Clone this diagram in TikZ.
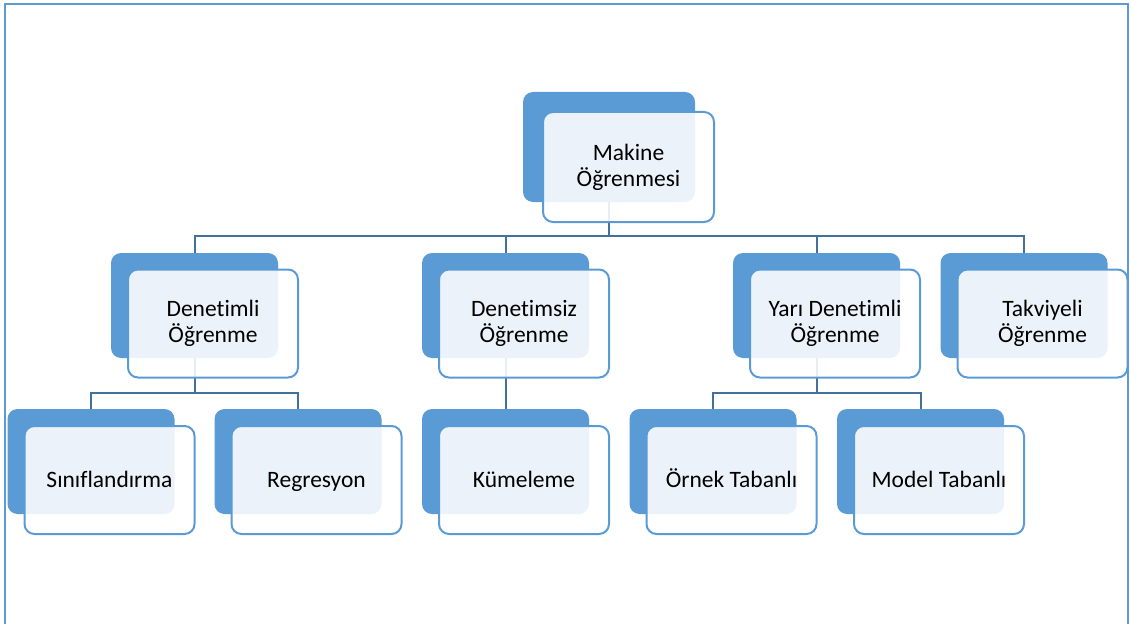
\documentclass[tikz,border=0pt]{standalone}
\usepackage{fontspec}
\setmainfont[Ligatures=NoCommon]{Carlito}
\definecolor{accent}{HTML}{5B9BD5}
\definecolor{linkc}{HTML}{41719C}
\begin{document}
\begin{tikzpicture}[x=1pt,y=-1pt,
  backbox/.style={fill=accent, rounded corners=10pt, minimum width=167pt,
    minimum height=105pt, inner sep=0pt, outer sep=0pt},
  frontbox/.style={draw=accent, line width=2pt, fill=white, fill opacity=0.88,
    text opacity=1, rounded corners=10pt, minimum width=170pt, minimum height=108pt,
    align=center, inner sep=0pt, outer sep=0pt, font=\fontsize{23.5}{26}\selectfont},
  oneline/.style={frontbox, text height=17pt, text depth=3pt},
  link/.style={draw=linkc, line width=2pt}]
\useasboundingbox (0,0) rectangle (1131,623);
% frame
\draw[accent, line width=2pt] (5,640) -- (5,4) -- (1128,4) -- (1128,640);

% shadow plates
\node[backbox, minimum width=172pt, minimum height=110pt] (mlb) at (609,147) {};
\node[backbox] (dlb) at (194.5,305.5) {};
\node[backbox] (dsb) at (505.5,305.5) {};
\node[backbox] (ydb) at (816.5,305.5) {};
\node[backbox] (tkb) at (1024,305.5) {};
\node[backbox] (snb) at (91,461.5) {};
\node[backbox] (rgb) at (298,461.5) {};
\node[backbox] (kmb) at (505.5,461.5) {};
\node[backbox] (ortb) at (713,461.5) {};
\node[backbox] (mdb) at (920.5,461.5) {};

% connectors
\draw[link] (mlb.south) -- ++(0,34) -| (dlb.north);
\draw[link] (mlb.south) -- ++(0,34) -| (dsb.north);
\draw[link] (mlb.south) -- ++(0,34) -| (ydb.north);
\draw[link] (mlb.south) -- ++(0,34) -| (tkb.north);
\draw[link] (dlb.south) -- ++(0,34.5) -| (snb.north);
\draw[link] (dlb.south) -- ++(0,34.5) -| (rgb.north);
\draw[link] (dsb.south) -- (kmb.north);
\draw[link] (ydb.south) -- ++(0,34.5) -| (ortb.north);
\draw[link] (ydb.south) -- ++(0,34.5) -| (mdb.north);

% labelled cards
\node[frontbox, minimum width=171pt, minimum height=110pt] (ml)
  at ([shift={(19.5,20)}]mlb.center) {Makine\\Öğrenmesi};
\node[frontbox] (dl) at ([shift={(18.5,18)}]dlb.center) {Denetimli\\Öğrenme};
\node[frontbox] (ds) at ([shift={(18.5,18)}]dsb.center) {Denetimsiz\\Öğrenme};
\node[frontbox] (yd) at ([shift={(18.5,18)}]ydb.center) {Yarı Denetimli\\Öğrenme};
\node[frontbox] (tk) at ([shift={(18.5,18)}]tkb.center) {Takviyeli\\Öğrenme};
\node[oneline] (sn) at ([shift={(18.5,18.5)}]snb.center) {Sınıflandırma};
\node[oneline] (rg) at ([shift={(18.5,18.5)}]rgb.center) {Regresyon};
\node[oneline] (km) at ([shift={(18.5,18.5)}]kmb.center) {Kümeleme};
\node[oneline] (ort) at ([shift={(18.5,18.5)}]ortb.center) {Örnek Tabanlı};
\node[oneline] (md) at ([shift={(18.5,18.5)}]mdb.center) {Model Tabanlı};
\end{tikzpicture}
\end{document}
